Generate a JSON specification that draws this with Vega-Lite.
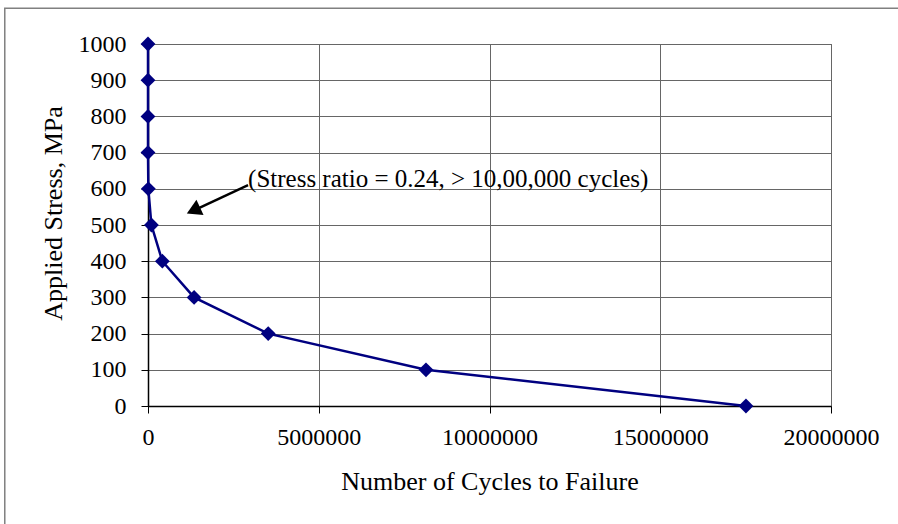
{
  "$schema": "https://vega.github.io/schema/vega-lite/v6.json",
  "width": 683,
  "height": 362,
  "autosize": {"type": "none"},
  "padding": {"left": 148, "top": 44, "right": 67, "bottom": 118},
  "background": "white",
  "config": {
    "view": {"stroke": "#555", "strokeWidth": 1},
    "font": "Liberation Serif"
  },
  "datasets": {
    "sn": [
      {"cycles": 0, "stress": 1000},
      {"cycles": 0, "stress": 900},
      {"cycles": 0, "stress": 800},
      {"cycles": 0, "stress": 700},
      {"cycles": 10000, "stress": 600},
      {"cycles": 100000, "stress": 500},
      {"cycles": 420000, "stress": 400},
      {"cycles": 1350000, "stress": 300},
      {"cycles": 3520000, "stress": 200},
      {"cycles": 8140000, "stress": 100},
      {"cycles": 17510000, "stress": 0}
    ],
    "frame": [{"x1": -4194000, "x2": 22300000, "y1": 1099, "y2": -345}],
    "arrow": [{"xs": 2930000, "ys": 610, "xe": 1330000, "ye": 540}],
    "note": [{"x": 2930000, "y": 605, "label": "(Stress ratio = 0.24, > 10,00,000 cycles)"}]
  },
  "layer": [
    {
      "data": {"name": "sn"},
      "mark": {"type": "line", "color": "#000080", "strokeWidth": 2.5, "clip": false},
      "encoding": {
        "x": {
          "field": "cycles", "type": "quantitative",
          "scale": {"domain": [0, 20000000], "nice": false, "zero": false},
          "axis": {
            "title": "Number of Cycles to Failure",
            "values": [0, 5000000, 10000000, 15000000, 20000000],
            "format": "d",
            "grid": true, "gridColor": "#666", "gridWidth": 1,
            "domainColor": "black", "domainWidth": 1.5,
            "tickColor": "black", "tickSize": 7, "tickWidth": 1,
            "labelFont": "Liberation Serif", "labelFontSize": 24, "labelColor": "black",
            "labelPadding": 12, "labelFlush": false, "labelOverlap": false,
            "titleFont": "Liberation Serif", "titleFontSize": 26, "titleFontWeight": "normal", "titleColor": "black",
            "titlePadding": 19
          }
        },
        "y": {
          "field": "stress", "type": "quantitative",
          "scale": {"domain": [0, 1000], "nice": false, "zero": false},
          "axis": {
            "title": "Applied Stress, MPa",
            "tickCount": 10,
            "format": "d",
            "grid": true, "gridColor": "#666", "gridWidth": 1,
            "domainColor": "black", "domainWidth": 1.5,
            "tickColor": "black", "tickSize": 7, "tickWidth": 1,
            "labelFont": "Liberation Serif", "labelFontSize": 24, "labelColor": "black",
            "labelPadding": 15, "labelOverlap": false, "labelFlush": false,
            "titleFont": "Liberation Serif", "titleFontSize": 26, "titleFontWeight": "normal", "titleColor": "black",
            "titlePadding": 12, "titleY": 169
          }
        }
      }
    },
    {
      "data": {"name": "frame"},
      "mark": {"type": "rect", "fillOpacity": 0, "stroke": "#808080", "strokeWidth": 1.5, "clip": false},
      "encoding": {
        "x": {"field": "x1", "type": "quantitative"},
        "x2": {"field": "x2"},
        "y": {"field": "y1", "type": "quantitative"},
        "y2": {"field": "y2"}
      }
    },
    {
      "data": {"name": "sn"},
      "mark": {"type": "point", "shape": "diamond", "filled": true, "color": "#000080", "size": 220, "opacity": 1, "clip": false},
      "encoding": {
        "x": {"field": "cycles", "type": "quantitative"},
        "y": {"field": "stress", "type": "quantitative"}
      }
    },
    {
      "data": {"name": "arrow"},
      "mark": {"type": "rule", "color": "black", "strokeWidth": 2.5},
      "encoding": {
        "x": {"field": "xs", "type": "quantitative"},
        "y": {"field": "ys", "type": "quantitative"},
        "x2": {"field": "xe"},
        "y2": {"field": "ye"}
      }
    },
    {
      "data": {"name": "arrow"},
      "mark": {"type": "point", "shape": "triangle-up", "filled": true, "color": "black", "size": 280, "angle": 245, "opacity": 1},
      "encoding": {
        "x": {"field": "xe", "type": "quantitative"},
        "y": {"field": "ye", "type": "quantitative"}
      }
    },
    {
      "data": {"name": "note"},
      "mark": {"type": "text", "align": "left", "baseline": "alphabetic", "font": "Liberation Serif", "fontSize": 25, "color": "black"},
      "encoding": {
        "x": {"field": "x", "type": "quantitative"},
        "y": {"field": "y", "type": "quantitative"},
        "text": {"field": "label"}
      }
    }
  ]
}
